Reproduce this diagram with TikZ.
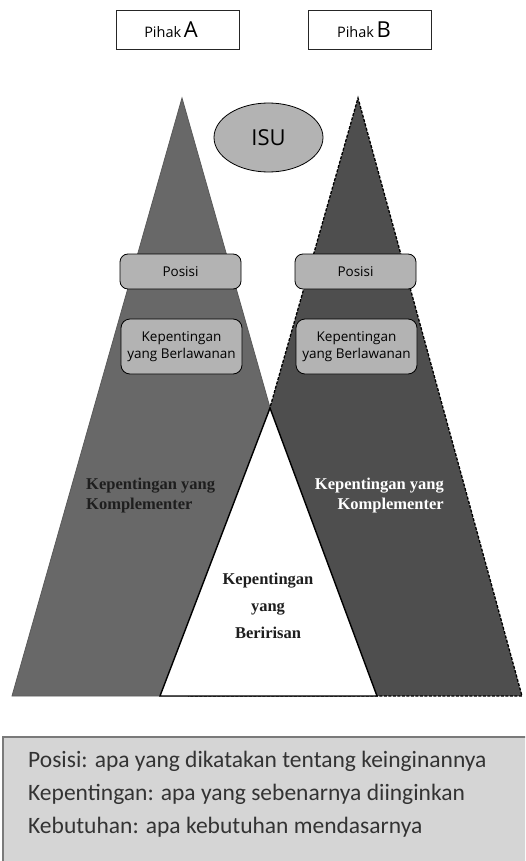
\documentclass[tikz,border=0pt]{standalone}
\usepackage{fontspec}
\setmainfont{Liberation Serif}
\newfontfamily\labfont{Open Sans}
\newfontfamily\calfont{Carlito}
\usetikzlibrary{shapes.geometric}
\definecolor{leftgray}{HTML}{686868}
\definecolor{leftedge}{HTML}{5A5A5A}
\definecolor{rightgray}{HTML}{4E4E4E}
\definecolor{boxgray}{HTML}{B3B3B3}
\definecolor{notegray}{HTML}{D5D5D5}
\definecolor{noteedge}{HTML}{7A7A7A}
\definecolor{notetext}{HTML}{333333}
\definecolor{darktext}{HTML}{1E1E1E}
\tikzset{
  pbox/.style={draw=black!85, line width=0.8pt, fill=white, minimum width=123pt, minimum height=39pt, inner sep=0pt},
  ptext/.style={anchor=base, inner sep=0pt, font=\labfont},
  posbox/.style={draw=black, line width=0.8pt, fill=boxgray, rounded corners=8pt, minimum width=121pt, minimum height=35pt, inner sep=0pt, font=\labfont\fontsize{13.5}{15}\selectfont},
  kepbox/.style={draw=black, line width=0.8pt, fill=boxgray, rounded corners=9pt, minimum width=121pt, minimum height=55pt, inner sep=0pt, align=center, font=\labfont\fontsize{13.5}{17.5}\selectfont},
  isu/.style={ellipse, draw=black, line width=0.8pt, fill=boxgray, minimum width=109pt, minimum height=69pt, inner sep=0pt, font=\labfont\fontsize{22}{24}\selectfont},
  komp/.style={inner sep=0pt, font=\bfseries\fontsize{16.5}{20}\selectfont},
  iris/.style={inner sep=0pt, align=center, font=\bfseries\fontsize{16.5}{27}\selectfont},
  notetxt/.style={anchor=west, inner sep=0pt, text=notetext, font=\calfont\fontsize{23.5}{26}\selectfont}
}
\begin{document}
\begin{tikzpicture}[x=1pt,y=-1pt]
\useasboundingbox (0,0) rectangle (525,861);
\clip (0,0) rectangle (525,861);
% Pihak boxes
\node[pbox] (pa) at (177.5,29.5) {};
\node[ptext] (pat) at (171,38) {{\fontsize{14.5}{14}\selectfont Pihak} {\fontsize{22}{22}\selectfont A}};
\node[pbox] (pb) at (369.5,29.5) {};
\node[ptext] (pbt) at (364,38) {{\fontsize{14.5}{14}\selectfont Pihak} {\fontsize{22}{22}\selectfont B}};
% triangles
\filldraw[fill=leftgray, draw=leftedge, line width=0.8pt] (12,696) -- (182,98) -- (352,696) -- cycle;
\filldraw[fill=rightgray, draw=black, line width=1.3pt, dash pattern=on 3pt off 1.5pt] (188,696) -- (358,98) -- (522,696) -- cycle;
\filldraw[fill=white, draw=black, line width=1.4pt] (160,696) -- (270,408) -- (377,696) -- cycle;
% ISU
\node[isu] (isu) at (268.5,137.5) {ISU};
% Posisi
\node[posbox] (posa) at (180.5,271.5) {Posisi};
\node[posbox] (posb) at (355.5,271.5) {Posisi};
\node[kepbox] (kepa) at (181.5,346.5) {Kepentingan\\yang Berlawanan};
\node[kepbox] (kepb) at (356.5,346.5) {Kepentingan\\yang Berlawanan};
% complementer
\node[komp, anchor=north west, align=left, text=darktext] (kompa) at (86,478) {Kepentingan yang\\Komplementer};
\node[komp, anchor=north east, align=right, text=white] (kompb) at (444,478) {Kepentingan yang\\Komplementer};
\node[iris, text=darktext] (iris) at (268,606) {Kepentingan\\yang\\Beririsan};
% note box
\draw[fill=notegray, draw=noteedge, line width=2pt] (3,737) rectangle (570,900);
\node[notetxt] (n1) at (28,761) {Posisi: apa yang dikatakan tentang keinginannya};
\node[notetxt] (n2) at (28,794) {Kepentingan: apa yang sebenarnya diinginkan};
\node[notetxt] (n3) at (28,827) {Kebutuhan: apa kebutuhan mendasarnya};
\end{tikzpicture}
\end{document}
